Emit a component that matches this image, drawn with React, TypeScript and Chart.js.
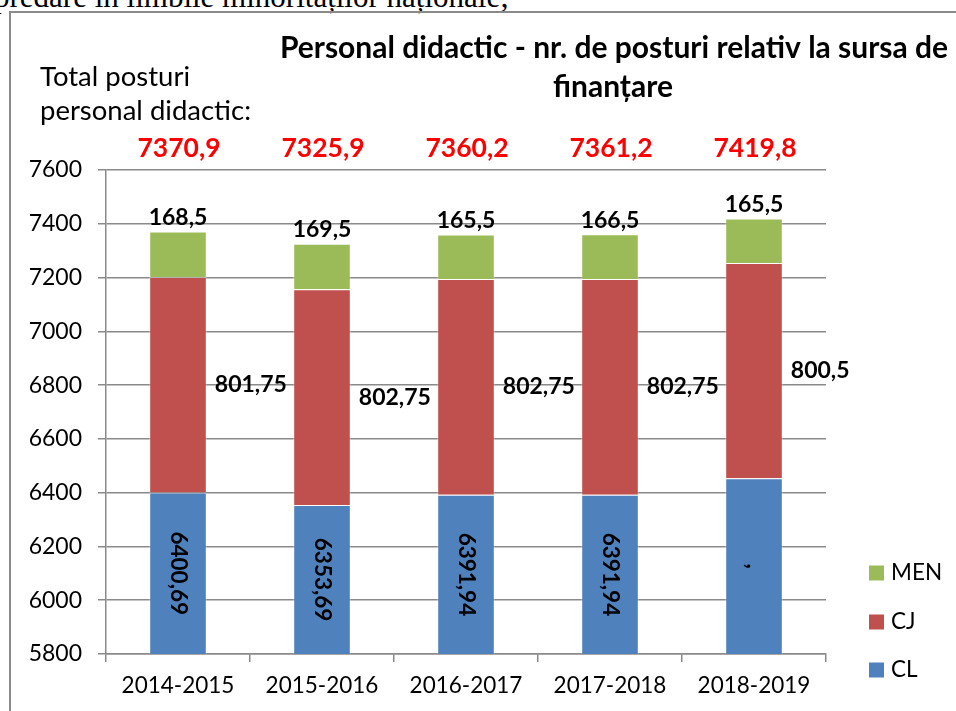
import { useEffect, useRef } from "react";
import { Chart, registerables } from "chart.js";

Chart.register(...registerables);

const categories = ["2014-2015", "2015-2016", "2016-2017", "2017-2018", "2018-2019"];
const clValues = [6400.69, 6353.69, 6391.94, 6391.94, 6453.8];
const cjValues = [801.75, 802.75, 802.75, 802.75, 800.5];
const menValues = [168.5, 169.5, 165.5, 166.5, 165.5];
const clLabels = ["6400,69", "6353,69", "6391,94", "6391,94", ","];
const cjLabels = ["801,75", "802,75", "802,75", "802,75", "800,5"];
const menLabels = ["168,5", "169,5", "165,5", "166,5", "165,5"];
const totalLabels = ["7370,9", "7325,9", "7360,2", "7361,2", "7419,8"];
const titleLines = ["Personal didactic - nr. de posturi relativ la sursa de", "finanțare"];
const sideNote = ["Total posturi", "personal didactic:"];
const seriesNames = ["CL", "CJ", "MEN"];
const seriesColors = ["#4F81BD", "#C0504D", "#9BBB59"];
const topText = "predare în limbile minorităților naționale;";

const FONT = "Lato, 'Open Sans', sans-serif";

const labelsPlugin = {
  id: "customLabels",
  afterDatasetsDraw(chart: any) {
    const ctx = chart.ctx;
    const ys = chart.scales.y;
    const meta0 = chart.getDatasetMeta(0);
    ctx.save();
    // title
    ctx.fillStyle = "#000";
    ctx.textAlign = "center";
    ctx.textBaseline = "middle";
    ctx.font = `bold 30px ${FONT}`;
    ctx.fillText(titleLines[0], 614, 48);
    ctx.fillText(titleLines[1], 613, 87);
    // side note
    ctx.textAlign = "left";
    ctx.textBaseline = "alphabetic";
    ctx.font = `27.5px ${FONT}`;
    ctx.fillText(sideNote[0], 40, 86);
    ctx.fillText(sideNote[1], 40, 120);

    const minV = ys.min;
    for (let i = 0; i < categories.length; i++) {
      const bar = meta0.data[i];
      const cx = bar.x;
      const half = bar.width / 2;
      const cl = clValues[i];
      const cj = cjValues[i];
      const men = menValues[i];
      const total = cl + cj + men;
      // totals
      ctx.fillStyle = "#FF0000";
      ctx.font = `bold 26.5px ${FONT}`;
      ctx.textAlign = "center";
      ctx.textBaseline = "middle";
      ctx.fillText(totalLabels[i], cx + 1, 148);
      // MEN
      ctx.fillStyle = "#000";
      ctx.font = `bold 23px ${FONT}`;
      ctx.fillText(menLabels[i], cx, ys.getPixelForValue(total) - 14);
      // CJ
      ctx.textAlign = "left";
      const cjY = (ys.getPixelForValue(cl) + ys.getPixelForValue(cl + cj)) / 2;
      ctx.fillText(cjLabels[i], cx + half + 8, cjY);
      // CL rotated
      ctx.font = `bold 22.5px ${FONT}`;
      const clY = (ys.getPixelForValue(Math.max(minV, 0)) + ys.getPixelForValue(cl)) / 2;
      ctx.save();
      ctx.translate(cx, clY);
      ctx.rotate(Math.PI / 2);
      ctx.textAlign = "center";
      ctx.fillText(clLabels[i], 0, 0);
      ctx.restore();
    }

    // legend (reversed order)
    ctx.font = `22.5px ${FONT}`;
    ctx.textAlign = "left";
    ctx.textBaseline = "middle";
    const legendY = [670, 622, 573];
    for (let s = 0; s < 3; s++) {
      ctx.fillStyle = seriesColors[s];
      ctx.fillRect(869, legendY[s] - 7.5, 15, 15);
      ctx.fillStyle = "#000";
      ctx.fillText(seriesNames[s], 891, legendY[s]);
    }
    ctx.restore();
  },
};

export default function App() {
  const ref = useRef<HTMLCanvasElement>(null);
  useEffect(() => {
    if (!ref.current) return;
    const valuesList = [clValues, cjValues, menValues];
    const chart = new Chart(ref.current, {
      type: "bar",
      data: {
        labels: categories,
        datasets: valuesList.map((vals, s) => ({
          label: seriesNames[s],
          data: vals,
          backgroundColor: seriesColors[s],
          borderColor: "rgba(255,255,255,0.35)",
          borderWidth: 1,
          barPercentage: 0.4,
          categoryPercentage: 1,
        })),
      },
      options: {
        responsive: false,
        animation: false,
        layout: { padding: { top: 170, right: 130, left: 0, bottom: 0 } },
        plugins: { legend: { display: false }, title: { display: false }, tooltip: { enabled: false } },
        scales: {
          x: {
            stacked: true,
            grid: {
              offset: true,
              drawOnChartArea: false,
              drawTicks: true,
              tickLength: 8,
              color: "#8a8a8a",
              lineWidth: 1.5,
            },
            border: { display: true, color: "#8a8a8a", width: 1.5 },
            ticks: { color: "#000", font: { family: FONT, size: 22.5 }, padding: 10, maxRotation: 0 },
            afterFit: (s: any) => { s.height = 57; },
          },
          y: {
            stacked: true,
            min: 5800,
            max: 7600,
            grid: { color: "#8a8a8a", lineWidth: 1.5, tickLength: 8 },
            border: { display: true, color: "#8a8a8a", width: 1.5 },
            ticks: {
              stepSize: 200,
              color: "#000",
              font: { family: FONT, size: 23 },
              padding: 16,
              callback: (v: any) => String(v),
            },
            afterFit: (s: any) => { s.width = 106; },
          },
        },
      },
      plugins: [labelsPlugin],
    });
    return () => chart.destroy();
  }, []);

  return (
    <div style={{ position: "fixed", left: 0, top: 0, width: 956, height: 711, overflow: "hidden", background: "#fff" }}>
      <div
        style={{
          position: "absolute",
          left: -6,
          top: -19,
          fontFamily: "'Liberation Serif', 'DejaVu Serif', serif",
          fontSize: 31,
          lineHeight: "31px",
          whiteSpace: "nowrap",
          color: "#000",
        }}
      >
        {topText}
      </div>
      <div
        style={{
          position: "absolute",
          left: 9,
          top: 11,
          width: 980,
          height: 720,
          border: "2px solid #8a8a8a",
          boxSizing: "border-box",
        }}
      />
      <canvas ref={ref} width={956} height={711} style={{ position: "absolute", left: 0, top: 0 }} />
    </div>
  );
}
